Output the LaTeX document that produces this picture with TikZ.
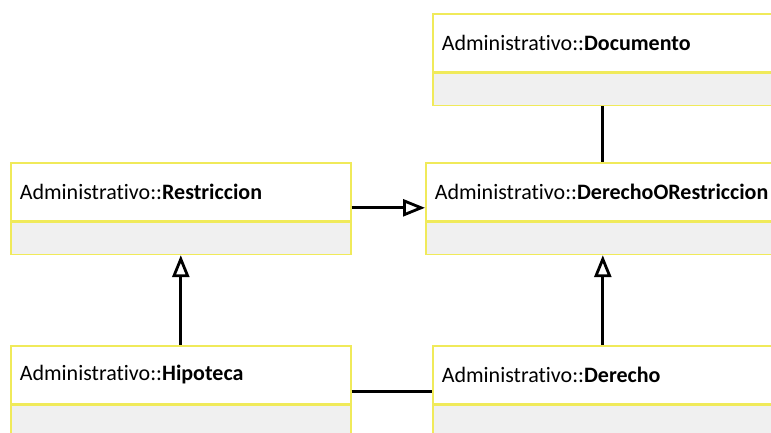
\documentclass[tikz,border=0pt]{standalone}
\usepackage{fontspec}
\setmainfont{Carlito}[Ligatures=NoCommon]
\usetikzlibrary{arrows.meta}
\definecolor{umlborder}{RGB}{240,234,90}
\definecolor{umlbody}{RGB}{240,240,240}
\tikzset{
  classhead/.style={draw=umlborder, line width=1.6pt, fill=white, rectangle,
    minimum width=#1, minimum height=58pt, text width=#1-18pt, align=left,
    inner xsep=9pt, inner ysep=0pt, anchor=north west, font=\fontsize{22}{24}\selectfont},
  classbody/.style={draw=umlborder, line width=1.6pt, fill=umlbody, rectangle,
    minimum width=#1, minimum height=32pt, inner sep=0pt, anchor=north west},
  assoc/.style={draw=black, line width=2.8pt},
  generalization/.style={assoc, -{Triangle[open, length=22pt, width=17pt, line width=2.8pt]}},
}
\begin{document}
\begin{tikzpicture}[x=1pt, y=-1pt]
\useasboundingbox (0,0) rectangle (771,432);
\clip (0,0) rectangle (771,432);
\fill[white] (0,0) rectangle (771,432);

% Documento
\node[classhead=340pt] (doc-h) at (432,13) {Administrativo::\textbf{Documento}};
\node[classbody=340pt] (doc-b) at (doc-h.south west) {};

% DerechoORestriccion
\node[classhead=354pt] (dor-h) at (425,162) {Administrativo::\textbf{DerechoORestriccion}};
\node[classbody=354pt] (dor-b) at (dor-h.south west) {};

% Restriccion
\node[classhead=340pt] (res-h) at (10,162) {Administrativo::\textbf{Restriccion}};
\node[classbody=340pt] (res-b) at (res-h.south west) {};

% Hipoteca
\node[classhead=340pt] (hip-h) at (10,345) {Administrativo::\textbf{Hipoteca}};
\node[classbody=340pt] (hip-b) at (hip-h.south west) {};

% Derecho
\node[classhead=340pt] (der-h) at (432,345) {Administrativo::\textbf{Derecho}};
\node[classbody=340pt] (der-b) at (der-h.south west) {};

% Relationships
\draw[assoc] (doc-b.south) -- (dor-h.north);
\draw[generalization] ([yshift=-16pt]res-h.east) -- ([yshift=-16pt]dor-h.west);
\draw[generalization] (hip-h.north) -- (res-b.south);
\draw[generalization] (der-h.north) -- (dor-b.south);
\draw[assoc] ([yshift=-17pt]hip-h.east) -- ([yshift=-17pt]der-h.west);
\end{tikzpicture}
\end{document}
